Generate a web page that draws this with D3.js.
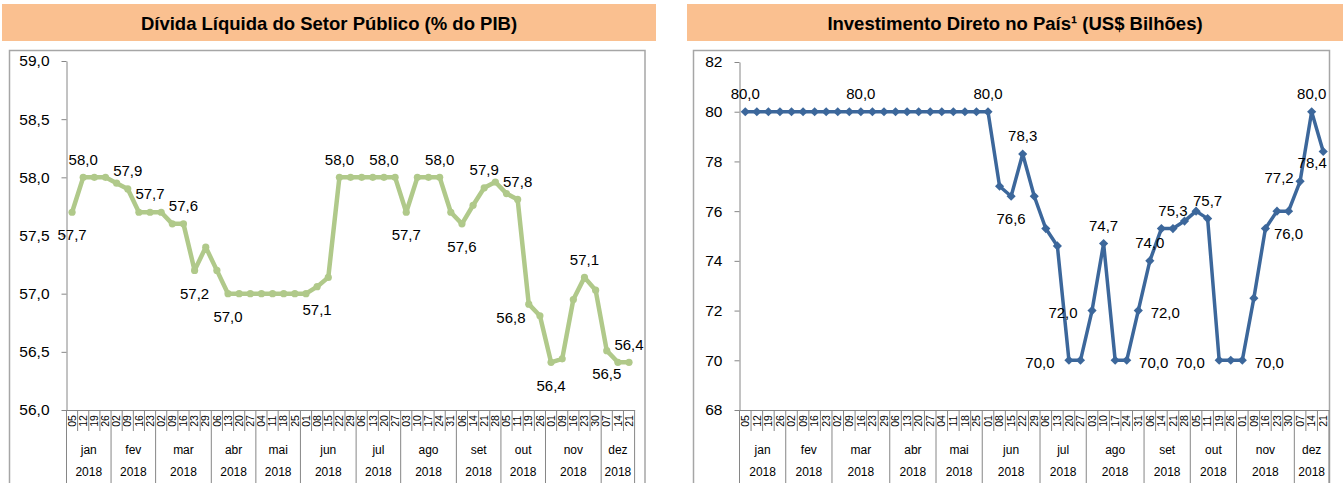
<!DOCTYPE html>
<html lang="pt-BR">
<head>
<meta charset="UTF-8">
<title>Dívida Líquida e Investimento Direto no País</title>
<script src="https://cdnjs.cloudflare.com/ajax/libs/d3/7.8.5/d3.min.js"></script>
<style>
  html, body { margin: 0; padding: 0; background: #fff; }
  svg { display: block; font-family: "Liberation Sans", Arial, sans-serif; }
</style>
</head>
<body>
<svg id="chart" width="1343" height="483"></svg>
<script>
// semanas de 2018 (eixo x em 3 níveis: dia / mês / ano)
const meses = ["jan","fev","mar","abr","mai","jun","jul","ago","set","out","nov","dez"];
const semanasPorMes = [4,4,5,4,4,5,4,5,4,4,5,3];
const dias = ["05","12","19","26","02","09","16","23","02","09","16","23","29","06","13","20","27",
  "04","11","18","25","01","08","15","22","29","06","13","20","27","03","10","17","24","31",
  "06","14","21","28","05","11","19","26","01","09","16","23","30","07","14","21"];
const ano = "2018";

// Dívida Líquida do Setor Público (% do PIB)
const dividaPIB = [57.7, 58.0, 58.0, 58.0, 57.95, 57.9, 57.7, 57.7, 57.7, 57.6, 57.6, 57.2, 57.4,
  57.2, 57.0, 57.0, 57.0, 57.0, 57.0, 57.0, 57.0, 57.0, 57.06, 57.14, 58.0, 58.0, 58.0, 58.0,
  58.0, 58.0, 57.7, 58.0, 58.0, 58.0, 57.7, 57.6, 57.76, 57.91, 57.96, 57.86, 57.81, 56.91,
  56.81, 56.41, 56.44, 56.95, 57.14, 57.03, 56.51, 56.41, 56.41];
const dividaTicks = [56, 56.5, 57, 57.5, 58, 58.5, 59];
const dividaRotulos = [[0,"below"],[1,"above"],[5,"above"],[7,"above"],[10,"above"],[11,"below"],
  [14,"below"],[22,"below"],[24,"above"],[28,"above"],[30,"below"],[33,"above"],[35,"below"],
  [37,"above"],[40,"above"],[42,"left"],[43,"below"],[46,"above"],[48,"below"],[50,"above"]];

// Investimento Direto no País (US$ bilhões)
const investimento = [80,80,80,80,80,80,80,80,80,80,80,80,80,80,80,80,80,80,80,80,80,80,
  77.0, 76.6, 78.3, 76.6, 75.3, 74.6, 70.0, 70.0, 72.0, 74.7, 70.0, 70.0, 72.0, 74.0, 75.3,
  75.3, 75.6, 76.0, 75.7, 70.0, 70.0, 70.0, 72.5, 75.3, 76.0, 76.0, 77.2, 80.0, 78.4];
const investTicks = [68, 70, 72, 74, 76, 78, 80, 82];
const investRotulos = [[0,"above"],[10,"above"],[21,"above"],[23,"below"],[24,"above"],[28,"left"],
  [30,"left"],[31,"above"],[33,"right"],[34,"right"],[35,"above"],[37,"above"],[40,"above"],
  [41,"left"],[43,"right"],[47,"below"],[48,"upLeft"],[49,"above"],[50,"downLeft"]];

const deslocamento = { above: [0,-18], below: [0,23], left: [-29,2], right: [27,2],
  upLeft: [-21,-4], downLeft: [-11,11] };

const virgula = d => d.toFixed(1).replace(".", ",");
const svg = d3.select("#chart");

function grafico(cfg) {
  const g = svg.append("g");

  // faixa de título
  g.append("rect")
    .attr("x", cfg.header[0]).attr("y", 4)
    .attr("width", cfg.header[1] - cfg.header[0]).attr("height", 37)
    .attr("fill", "#fac090");
  g.append("text")
    .attr("x", (cfg.header[0] + cfg.header[1]) / 2).attr("y", 24)
    .attr("dy", "0.35em").attr("text-anchor", "middle")
    .attr("font-weight", "bold").attr("font-size", 18.5)
    .text(cfg.titulo);

  // moldura
  g.append("rect")
    .attr("x", cfg.frame[0]).attr("y", 50.5)
    .attr("width", cfg.frame[1] - cfg.frame[0]).attr("height", 470)
    .attr("fill", "#fff").attr("stroke", "#a6a6a6").attr("stroke-width", 1.5);

  const x = d3.scaleBand().domain(d3.range(dias.length)).range(cfg.xRange).padding(0);
  const y = d3.scaleLinear().domain(cfg.dominio).range([410, cfg.yTop]);
  const bw = x.bandwidth();
  const cx = i => x(i) + bw / 2;

  // eixo y
  const ay = g.append("g")
    .attr("transform", `translate(${cfg.xRange[0]},0)`)
    .call(d3.axisLeft(y).tickValues(cfg.ticks).tickSize(5).tickSizeOuter(0)
      .tickPadding(12).tickFormat(cfg.fmtEixo));
  ay.select(".domain").attr("stroke", "#868686");
  ay.selectAll(".tick line").attr("stroke", "#868686");
  ay.selectAll("text").attr("font-size", 15.5).attr("fill", "#000")
    .attr("font-family", "Liberation Sans, Arial, sans-serif");

  // eixo x: dias girados
  const ax = g.append("g")
    .attr("transform", "translate(0,410)")
    .call(d3.axisBottom(x).tickSize(0).tickSizeOuter(0).tickFormat(i => dias[i]));
  ax.select(".domain").attr("stroke", "#868686");
  ax.selectAll("text")
    .attr("x", 0).attr("y", 0).attr("dy", "0.35em")
    .attr("transform", "translate(0,11) rotate(-90)")
    .attr("text-anchor", "middle")
    .attr("font-size", 10.5).attr("fill", "#000")
    .attr("font-family", "Liberation Sans, Arial, sans-serif");

  // separadores de semana e de mês
  const limites = [0];
  semanasPorMes.forEach(n => limites.push(limites[limites.length - 1] + n));
  const bordas = d3.range(dias.length + 1).map(i => i < dias.length ? x(i) : cfg.xRange[1]);
  g.append("g").selectAll("line").data(d3.range(dias.length + 1)).join("line")
    .attr("x1", i => bordas[i]).attr("x2", i => bordas[i])
    .attr("y1", 410).attr("y2", i => limites.includes(i) ? 490 : 431)
    .attr("stroke", "#868686").attr("stroke-width", 1);

  // rótulos de mês e ano
  const rot = g.append("g").attr("font-size", 12).attr("text-anchor", "middle");
  meses.forEach((m, k) => {
    const mx = (bordas[limites[k]] + bordas[limites[k + 1]]) / 2;
    rot.append("text").attr("x", mx).attr("y", 450).attr("dy", "0.35em").text(m);
    rot.append("text").attr("x", mx).attr("y", 472).attr("dy", "0.35em").text(ano);
  });

  // série
  const valores = cfg.valores;
  g.append("path")
    .datum(d3.range(valores.length))
    .attr("fill", "none").attr("stroke", cfg.cor)
    .attr("stroke-width", cfg.espessura).attr("stroke-linejoin", "round")
    .attr("d", d3.line().x(cx).y(i => y(valores[i])));

  if (cfg.marcador === "circulo") {
    g.append("g").selectAll("circle").data(d3.range(valores.length)).join("circle")
      .attr("cx", cx).attr("cy", i => y(valores[i])).attr("r", 3.6)
      .attr("fill", cfg.cor);
  } else {
    const diamante = d3.symbol(d3.symbolSquare).size(42);
    g.append("g").selectAll("path").data(d3.range(valores.length)).join("path")
      .attr("d", diamante)
      .attr("transform", i => `translate(${cx(i)},${y(valores[i])}) rotate(45)`)
      .attr("fill", cfg.cor);
  }

  // rótulos de dados
  g.append("g").selectAll("text").data(cfg.rotulos).join("text")
    .attr("x", d => cx(d[0]) + deslocamento[d[1]][0])
    .attr("y", d => y(valores[d[0]]) + deslocamento[d[1]][1])
    .attr("dy", "0.35em").attr("text-anchor", "middle")
    .attr("font-size", 15).attr("fill", "#000")
    .text(d => virgula(valores[d[0]]));
}

grafico({
  titulo: "Dívida Líquida do Setor Público (% do PIB)",
  header: [2, 656], frame: [9.5, 645],
  xRange: [66.5, 634.6], yTop: 61, dominio: [56, 59],
  ticks: dividaTicks, fmtEixo: virgula,
  valores: dividaPIB, rotulos: dividaRotulos,
  cor: "#b0c98a", espessura: 4.5, marcador: "circulo"
});

grafico({
  titulo: "Investimento Direto no País¹ (US$ Bilhões)",
  header: [687, 1343], frame: [693.5, 1329.5],
  xRange: [739.5, 1329], yTop: 62, dominio: [68, 82],
  ticks: investTicks, fmtEixo: d3.format("d"),
  valores: investimento, rotulos: investRotulos,
  cor: "#3c679b", espessura: 3.5, marcador: "diamante"
});
</script>
</body>
</html>
